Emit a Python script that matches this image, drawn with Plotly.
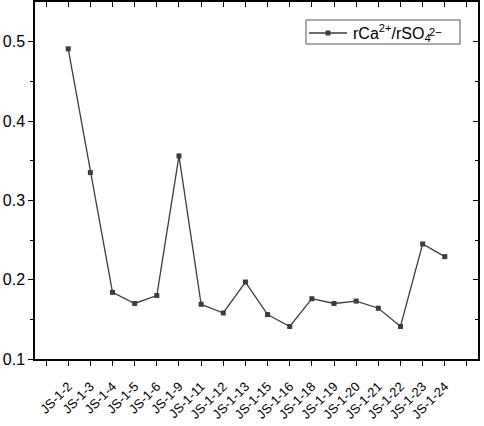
import plotly.graph_objects as go

# sample names and ratio values
samples = ["JS-1-2", "JS-1-3", "JS-1-4", "JS-1-5", "JS-1-6", "JS-1-9",
           "JS-1-11", "JS-1-12", "JS-1-13", "JS-1-15", "JS-1-16", "JS-1-18",
           "JS-1-19", "JS-1-20", "JS-1-21", "JS-1-22", "JS-1-23", "JS-1-24"]
ratio = [0.491, 0.335, 0.184, 0.170, 0.180, 0.356,
         0.169, 0.158, 0.197, 0.156, 0.141, 0.176,
         0.170, 0.173, 0.164, 0.141, 0.245, 0.229]
y_ticks = [0.1, 0.2, 0.3, 0.4, 0.5]
y_minor = [0.15, 0.25, 0.35, 0.45]

# categories sit on ticks 2..19, ticks 1 and 20 stay empty
pos = list(range(2, 2 + len(samples)))
edge_ticks = [1, len(samples) + 2]
all_ticks = [1] + pos + [len(samples) + 2]

font = "Arial, Liberation Sans, sans-serif"
ink = "#3c3c3c"

W, H = 484, 426
L, R, T, B = 35, 6, 2, 67
pw, ph = W - L - R, H - T - B


def px(x):
    # pixel x -> paper x
    return (x - L) / pw


def py(y):
    # pixel y (from top) -> paper y
    return (H - B - y) / ph


fig = go.Figure()

fig.add_trace(go.Scatter(
    x=pos, y=ratio,
    mode="lines+markers",
    line=dict(color=ink, width=1.3),
    marker=dict(symbol="square", size=5, color=ink),
    showlegend=False,
))

# invisible trace to carry the mirrored (inward-tick) axes
fig.add_trace(go.Scatter(
    x=pos, y=ratio, xaxis="x2", yaxis="y2",
    mode="markers", marker=dict(opacity=0),
    showlegend=False, hoverinfo="skip",
))

xr = [0.5, 20.5]
yr = [0.1, 0.55]
tk = dict(ticklen=5, tickwidth=1.3, tickcolor="black")
ln = dict(showline=True, linecolor="black", linewidth=1.5,
          showgrid=False, zeroline=False, automargin=False)

# hand-made legend box so the ion label can stack sub/superscript
ly = 33
shapes = [
    dict(type="rect", xref="paper", yref="paper",
         x0=px(306), x1=px(460), y0=py(44), y1=py(20),
         line=dict(color="#555", width=1), fillcolor="white", layer="above"),
    dict(type="line", xref="paper", yref="paper",
         x0=px(309), x1=px(347), y0=py(ly), y1=py(ly),
         line=dict(color=ink, width=1.3), layer="above"),
    dict(type="rect", xref="paper", yref="paper",
         x0=px(325.5), x1=px(330.5), y0=py(ly + 2.5), y1=py(ly - 2.5),
         line=dict(width=0), fillcolor=ink, layer="above"),
]
annotations = [
    dict(xref="paper", yref="paper", x=px(351), y=py(ly),
         xanchor="left", yanchor="middle", showarrow=False,
         text="rCa<sup>2+</sup>/rSO<sub>4</sub>",
         font=dict(family=font, size=16, color="black")),
    dict(xref="paper", yref="paper", x=px(427), y=py(ly - 1),
         xanchor="left", yanchor="middle", showarrow=False,
         text="<sup>2−</sup>",
         font=dict(family=font, size=16, color="black")),
]

fig.update_layout(
    width=W, height=H,
    margin=dict(l=L, r=R, t=T, b=B),
    plot_bgcolor="white", paper_bgcolor="white",
    font=dict(family=font, size=16, color="black"),
    showlegend=False,
    shapes=shapes,
    annotations=annotations,
    xaxis=dict(
        range=xr, tickmode="array", tickvals=pos, ticktext=samples,
        tickangle=-45, tickfont=dict(size=13), ticklabelstandoff=8,
        ticks="outside", **tk,
        minor=dict(tickvals=edge_ticks, ticks="outside", **tk),
        **ln,
    ),
    yaxis=dict(
        range=yr, tickmode="array", tickvals=y_ticks,
        ticktext=[f"{v:.1f}" for v in y_ticks],
        ticks="outside", **tk,
        minor=dict(tickvals=y_minor, ticks="outside",
                   ticklen=3, tickwidth=1.3, tickcolor="black"),
        **ln,
    ),
    xaxis2=dict(
        overlaying="x", side="top", range=xr,
        tickmode="array", tickvals=all_ticks, showticklabels=False,
        ticks="inside", **tk, **ln,
    ),
    yaxis2=dict(
        overlaying="y", side="right", range=yr,
        tickmode="array", tickvals=y_ticks, showticklabels=False,
        ticks="inside", **tk,
        minor=dict(tickvals=y_minor, ticks="inside",
                   ticklen=3, tickwidth=1.3, tickcolor="black"),
        **ln,
    ),
)

# drop the browser's default body margin so the chart sits at 0,0
fig.write_html("out.html", config={"displayModeBar": False},
               post_script="document.body.style.margin='0';")
